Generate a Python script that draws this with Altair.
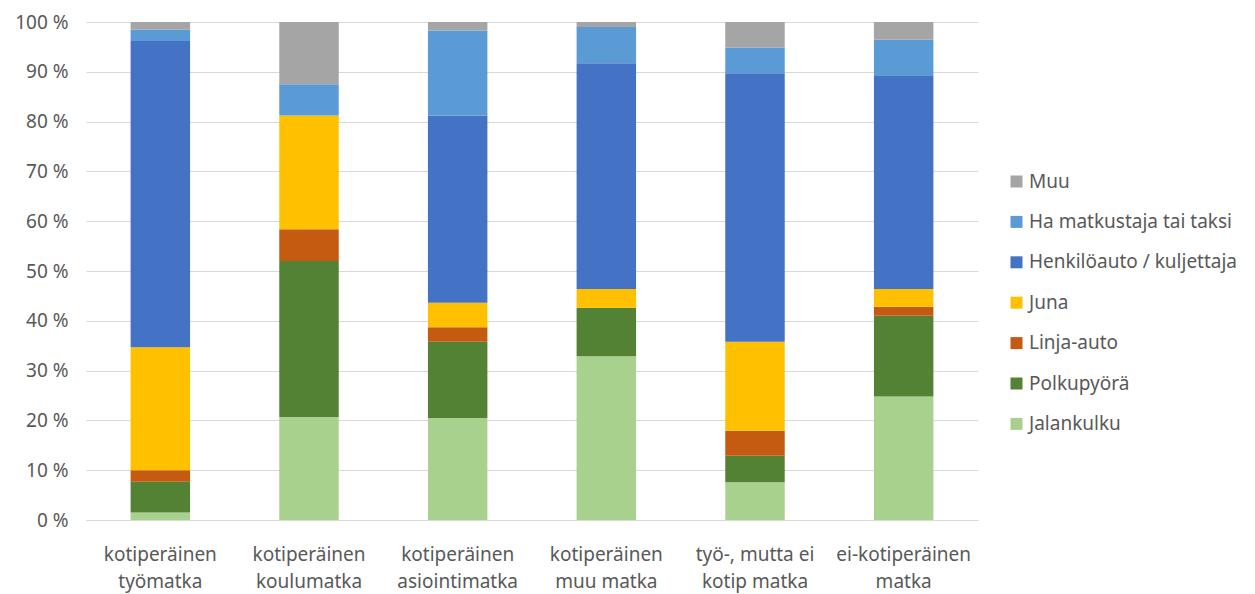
import altair as alt
import pandas as pd

categories = [
    "kotiperäinen\ntyömatka",
    "kotiperäinen\nkoulumatka",
    "kotiperäinen\nasiointimatka",
    "kotiperäinen\nmuu matka",
    "työ-, mutta ei\nkotip matka",
    "ei-kotiperäinen\nmatka",
]

modes = [
    "Jalankulku",
    "Polkupyörä",
    "Linja-auto",
    "Juna",
    "Henkilöauto / kuljettaja",
    "Ha matkustaja tai taksi",
    "Muu",
]

colors = ["#A9D18E", "#548235", "#C55A11", "#FFC000", "#4472C4", "#5B9BD5", "#A5A5A5"]

jalankulku = [1.5, 20.7, 20.5, 32.9, 7.6, 24.8]
polkupyora = [6.2, 31.3, 15.3, 9.7, 5.3, 16.2]
linja_auto = [2.3, 6.4, 2.9, 0.0, 5.0, 1.8]
juna = [24.7, 22.8, 4.9, 3.8, 17.9, 3.6]
henkiloauto = [61.5, 0.0, 37.6, 45.3, 53.9, 42.9]
ha_matkustaja = [2.3, 6.3, 17.1, 7.3, 5.2, 7.2]
muu = [1.5, 12.5, 1.7, 1.0, 5.1, 3.5]

series = [jalankulku, polkupyora, linja_auto, juna, henkiloauto, ha_matkustaja, muu]

rows = []
for mi, (mode, vals) in enumerate(zip(modes, series)):
    for cat, v in zip(categories, vals):
        rows.append({"cat": cat, "mode": mode, "value": v, "order": mi})
df = pd.DataFrame(rows)

font = "Noto Sans"
gray = "#595959"

chart = alt.Chart(df).mark_bar().encode(
    x=alt.X(
        "cat:N",
        sort=categories,
        title=None,
        scale=alt.Scale(paddingInner=0.6, paddingOuter=0.3),
        axis=alt.Axis(
            labelAngle=0,
            labelExpr="split(datum.label, '\\n')",
            labelFont=font,
            labelFontSize=19,
            labelColor=gray,
            labelLineHeight=27,
            labelPadding=25,
            ticks=False,
            domainColor="#D9D9D9",
            domainWidth=1,
            grid=False,
        ),
    ),
    y=alt.Y(
        "value:Q",
        stack="normalize",
        title=None,
        scale=alt.Scale(domain=[0, 1], nice=False),
        axis=alt.Axis(
            values=[0, 0.1, 0.2, 0.3, 0.4, 0.5, 0.6, 0.7, 0.8, 0.9, 1.0],
            labelExpr="round(datum.value * 100) + ' %'",
            labelFont=font,
            labelFontSize=19,
            labelColor=gray,
            labelPadding=18,
            ticks=False,
            domain=False,
            gridColor="#D9D9D9",
            gridWidth=1,
        ),
    ),
    color=alt.Color(
        "mode:N",
        scale=alt.Scale(domain=modes[::-1], range=colors[::-1]),
        title=None,
        legend=alt.Legend(
            orient="none",
            legendX=921,
            legendY=150,
            symbolType="square",
            symbolSize=144,
            symbolStrokeWidth=0,
            labelFont=font,
            labelFontSize=19,
            labelColor=gray,
            rowPadding=20.4,
            labelOffset=3,
            labelLimit=400,
        ),
    ),
    order=alt.Order("order:Q", sort="ascending"),
).properties(
    width=892,
    height=498,
    background="white",
    autosize=alt.AutoSizeParams(type="none"),
    padding={"left": 86, "top": 22, "right": 277, "bottom": 74},
).configure_view(stroke=None)

chart.save("out.html", embed_options={"renderer": "svg", "actions": False})
